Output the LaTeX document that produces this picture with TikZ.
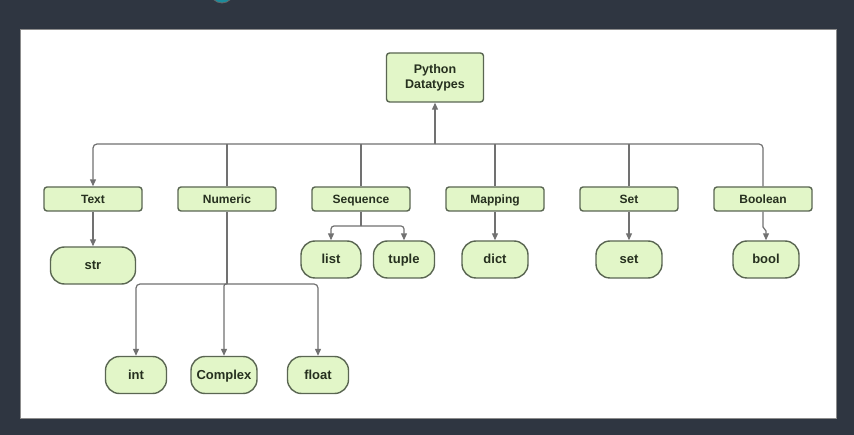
\documentclass[tikz,border=0pt]{standalone}
\usepackage{fontspec}
\setmainfont{Liberation Sans}
\usetikzlibrary{arrows.meta}
\definecolor{bgdark}{HTML}{2F3641}
\definecolor{boxfill}{HTML}{E2F6C8}
\definecolor{boxline}{HTML}{5A6652}
\definecolor{txt}{HTML}{26301F}
\definecolor{conn}{HTML}{717171}
\definecolor{tealdot}{HTML}{1C8C9C}
\tikzset{
  cat/.style={draw=boxline, fill=boxfill, line width=1.4pt, rounded corners=3pt,
    minimum width=98pt, minimum height=24pt, inner sep=0pt, text=txt,
    text height=10.6pt, text depth=2pt,
    font=\fontsize{12}{14}\selectfont\bfseries},
  root/.style={draw=boxline, fill=boxfill, line width=1.4pt, rounded corners=3pt,
    minimum width=97pt, minimum height=49pt, inner sep=0pt, text=txt, align=center,
    font=\fontsize{12.5}{15}\selectfont\bfseries},
  leaf/.style={draw=boxline, fill=boxfill, line width=1.4pt, rounded corners=14pt,
    minimum height=37pt, inner sep=0pt, text=txt,
    text height=11.5pt, text depth=2.5pt,
    font=\fontsize{13}{15}\selectfont\bfseries},
  conline/.style={draw=conn, line width=1.2pt},
  conarr/.style={conline, -{Triangle[length=7pt,width=6pt]}},
}
\begin{document}
\begin{tikzpicture}[x=1pt,y=-1pt]
\useasboundingbox (0,0) rectangle (854,435);
\fill[bgdark] (0,0) rectangle (854,435);
\fill[tealdot, draw=black!60, line width=0.8pt] (222,-9) circle (12);
\fill[white, draw=black!45, line width=0.6pt] (20,29) rectangle (836,418);

% root
\node[root] (py) at (435,77.5) {Python\\Datatypes};

% categories
\node[cat] (text) at (93,199) {Text};
\node[cat] (num) at (227,199) {Numeric};
\node[cat] (seq) at (361,199) {Sequence};
\node[cat] (map) at (495,199) {Mapping};
\node[cat] (set) at (629,199) {Set};
\node[cat] (boo) at (763,199) {Boolean};

% leaves
\node[leaf, minimum width=85pt] (str) at (93,265.5) {str};
\node[leaf, minimum width=60pt] (list) at (331,259.5) {list};
\node[leaf, minimum width=61pt] (tuple) at (404,259.5) {tuple};
\node[leaf, minimum width=66pt] (dict) at (495,259.5) {dict};
\node[leaf, minimum width=66pt] (sset) at (629,259.5) {set};
\node[leaf, minimum width=66pt] (bool) at (766,259.5) {bool};
\node[leaf, minimum width=61pt] (int) at (136,375) {int};
\node[leaf, minimum width=66pt] (cplx) at (224,375) {Complex};
\node[leaf, minimum width=61pt] (float) at (318,375) {float};

% main bus
\coordinate (j) at (435,144);
\draw[conarr] (j) -- (py.south);
\draw[conarr, rounded corners=4pt] (j) -| (text.north);
\draw[conline, rounded corners=4pt] (j) -| (boo.north);
\draw[conline] (num.north) -- (num.north |- j);
\draw[conline] (seq.north) -- (seq.north |- j);
\draw[conline] (map.north) -- (map.north |- j);
\draw[conline] (set.north) -- (set.north |- j);

% text -> str
\draw[conarr] (text.south) -- (str.north);

% numeric children
\coordinate (nj) at (227,284);
\draw[conline] (num.south) -- (nj);
\draw[conarr, rounded corners=4pt] (nj) -| (int.north);
\draw[conarr, rounded corners=4pt] (nj) -| (float.north);
\draw[conarr, rounded corners=2pt] (nj) -| (cplx.north);

% sequence children
\coordinate (sj) at (361,226);
\draw[conline] (seq.south) -- (sj);
\draw[conarr, rounded corners=3pt] (sj) -| (list.north);
\draw[conarr, rounded corners=3pt] (sj) -| (tuple.north);

% single children
\draw[conarr] (map.south) -- (dict.north);
\draw[conarr] (set.south) -- (sset.north);
\coordinate (bk) at (763,227);
\draw[conarr] (boo.south) -- (bk) -- ([yshift=-4pt]bool.north |- bk) -- (bool.north);
\end{tikzpicture}
\end{document}
